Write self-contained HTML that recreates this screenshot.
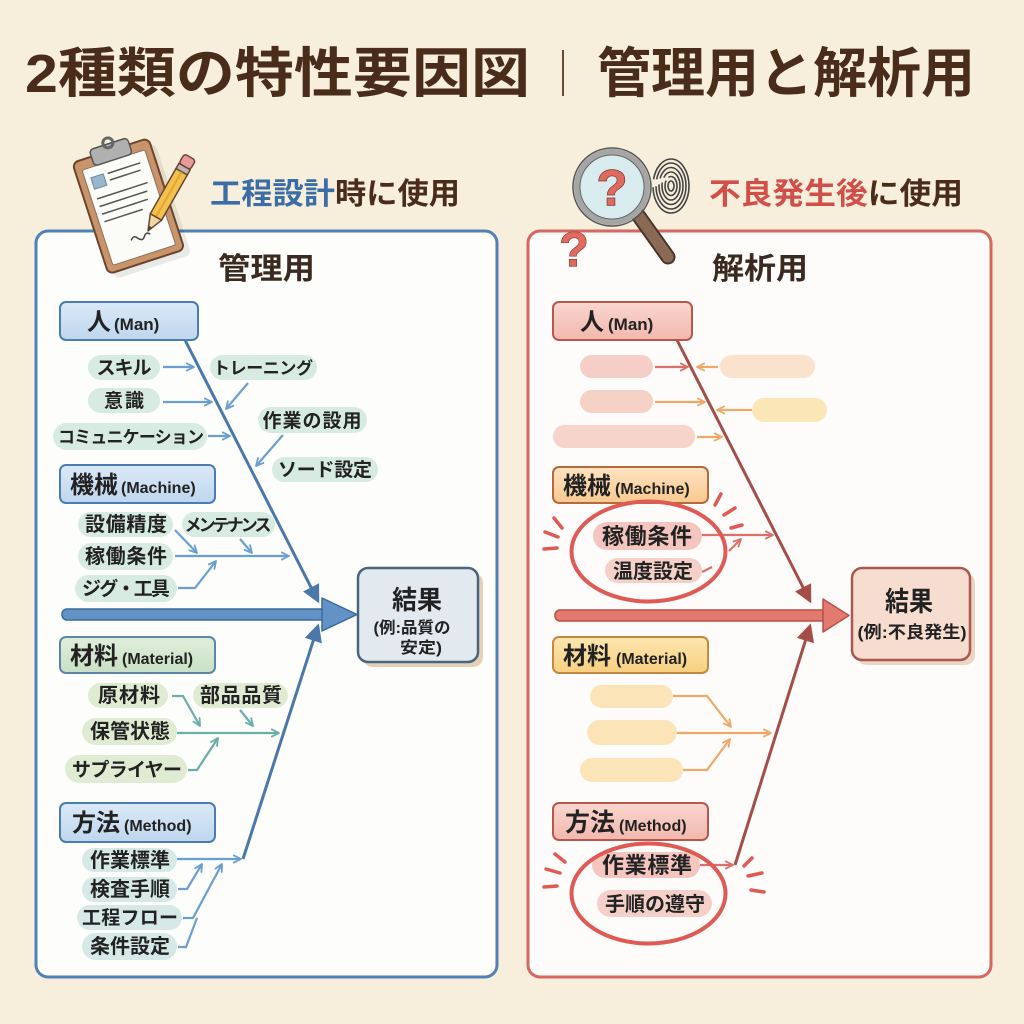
<!DOCTYPE html>
<html><head><meta charset="utf-8"><style>
html,body{margin:0;padding:0;background:#f7efdc;}
svg{display:block;}
</style></head><body>
<svg width="1024" height="1024" viewBox="0 0 1024 1024" xmlns="http://www.w3.org/2000/svg" font-family="'Liberation Sans','Noto Sans CJK JP',sans-serif">
<defs>
<marker id="mb" viewBox="0 0 10 10" refX="9" refY="5" markerWidth="9" markerHeight="9" markerUnits="userSpaceOnUse" orient="auto"><path d="M1,1 L9,5 L1,9" fill="none" stroke="#6a9fd0" stroke-width="2" stroke-linejoin="round" stroke-linecap="round"/></marker>
<marker id="mt" viewBox="0 0 10 10" refX="9" refY="5" markerWidth="9" markerHeight="9" markerUnits="userSpaceOnUse" orient="auto"><path d="M1,1 L9,5 L1,9" fill="none" stroke="#6aaea8" stroke-width="2" stroke-linejoin="round" stroke-linecap="round"/></marker>
<marker id="mr" viewBox="0 0 10 10" refX="9" refY="5" markerWidth="9" markerHeight="9" markerUnits="userSpaceOnUse" orient="auto"><path d="M1,1 L9,5 L1,9" fill="none" stroke="#d9706a" stroke-width="2" stroke-linejoin="round" stroke-linecap="round"/></marker>
<marker id="mo" viewBox="0 0 10 10" refX="9" refY="5" markerWidth="9" markerHeight="9" markerUnits="userSpaceOnUse" orient="auto"><path d="M1,1 L9,5 L1,9" fill="none" stroke="#f0a868" stroke-width="2" stroke-linejoin="round" stroke-linecap="round"/></marker>
<marker id="MB" viewBox="0 0 20 20" refX="17" refY="10" markerWidth="20" markerHeight="18" markerUnits="userSpaceOnUse" orient="auto"><path d="M0,0 L20,10 L0,20 Z" fill="#4a78aa"/></marker>
<marker id="MR" viewBox="0 0 20 20" refX="17" refY="10" markerWidth="20" markerHeight="18" markerUnits="userSpaceOnUse" orient="auto"><path d="M0,0 L20,10 L0,20 Z" fill="#a54e48"/></marker>
<linearGradient id="gb" x1="0" y1="0" x2="0" y2="1"><stop offset="0" stop-color="#dbe9f7"/><stop offset="1" stop-color="#bfd6ee"/></linearGradient>
<linearGradient id="gg" x1="0" y1="0" x2="0" y2="1"><stop offset="0" stop-color="#e0eedb"/><stop offset="1" stop-color="#c9e0c6"/></linearGradient>
<linearGradient id="gp" x1="0" y1="0" x2="0" y2="1"><stop offset="0" stop-color="#f9d6cf"/><stop offset="1" stop-color="#f2b8ae"/></linearGradient>
<linearGradient id="go" x1="0" y1="0" x2="0" y2="1"><stop offset="0" stop-color="#fde3c2"/><stop offset="1" stop-color="#f8c98f"/></linearGradient>
<linearGradient id="gy" x1="0" y1="0" x2="0" y2="1"><stop offset="0" stop-color="#fde6b0"/><stop offset="1" stop-color="#f7cf80"/></linearGradient>
</defs>

<!-- Title -->
<text x="25" y="92" font-size="54" font-weight="700" fill="#4a2c1a" textLength="505" lengthAdjust="spacingAndGlyphs">2種類の特性要因図</text>
<line x1="563" y1="50" x2="563" y2="96" stroke="#6b4a35" stroke-width="2"/>
<text x="597" y="92" font-size="54" font-weight="700" fill="#4a2c1a" textLength="378" lengthAdjust="spacingAndGlyphs">管理用と解析用</text>

<!-- Subheaders -->
<text x="210" y="204" font-size="30" font-weight="700" textLength="250" lengthAdjust="spacingAndGlyphs"><tspan fill="#3b6ea6">工程設計</tspan><tspan fill="#4a2c1a">時に使用</tspan></text>
<text x="709" y="204" font-size="30" font-weight="700" textLength="254" lengthAdjust="spacingAndGlyphs"><tspan fill="#d14f48">不良発生後</tspan><tspan fill="#4a2c1a">に使用</tspan></text>

<!-- Panels -->
<rect x="36" y="231" width="461" height="746" rx="12" fill="#fdfdfb" stroke="#4f80b8" stroke-width="3"/>
<rect x="528" y="231" width="463" height="746" rx="12" fill="#fefcfa" stroke="#d4675f" stroke-width="3"/>

<text x="218" y="279" font-size="30" font-weight="700" fill="#3a2a20" textLength="97" lengthAdjust="spacingAndGlyphs">管理用</text>
<text x="712" y="279" font-size="30" font-weight="700" fill="#3a2a20" textLength="96" lengthAdjust="spacingAndGlyphs">解析用</text>

<!-- ============ LEFT DIAGRAM ============ -->
<g font-weight="700" fill="#222">
<!-- main bones -->
<line x1="185" y1="340" x2="318" y2="601" stroke="#4a78aa" stroke-width="3" marker-end="url(#MB)"/>
<line x1="243" y1="859" x2="318" y2="626" stroke="#4a78aa" stroke-width="3" marker-end="url(#MB)"/>
<!-- horizontal spine -->
<rect x="62" y="609" width="265" height="11" rx="5" fill="#6393c6" stroke="#3d6a9a" stroke-width="1.5"/>
<path d="M322,598 L357,614.5 L322,631 Z" fill="#6393c6" stroke="#3d6a9a" stroke-width="1.5" stroke-linejoin="round"/>

<!-- category boxes -->
<rect x="60" y="302" width="138" height="38" rx="6" fill="url(#gb)" stroke="#4b7db3" stroke-width="2"/>
<text x="87" y="330"><tspan font-size="24">人</tspan><tspan font-size="17" dx="3">(Man)</tspan></text>
<rect x="60" y="465" width="155" height="38" rx="6" fill="url(#gb)" stroke="#4b7db3" stroke-width="2"/>
<text x="70" y="493"><tspan font-size="24">機械</tspan><tspan font-size="16" dx="3">(Machine)</tspan></text>
<rect x="60" y="637" width="155" height="36" rx="6" fill="url(#gg)" stroke="#5b86a8" stroke-width="2"/>
<text x="70" y="664"><tspan font-size="24">材料</tspan><tspan font-size="16" dx="4">(Material)</tspan></text>
<rect x="60" y="803" width="155" height="39" rx="6" fill="url(#gb)" stroke="#4b7db3" stroke-width="2"/>
<text x="72" y="831"><tspan font-size="24">方法</tspan><tspan font-size="16" dx="4">(Method)</tspan></text>

<!-- Man sub arrows -->
<g stroke="#6a9fd0" stroke-width="2.2" fill="none">
<line x1="163" y1="367" x2="194" y2="367" marker-end="url(#mb)"/>
<line x1="248" y1="383" x2="226" y2="409" marker-end="url(#mb)"/>
<line x1="163" y1="402" x2="212" y2="402" marker-end="url(#mb)"/>
<line x1="208" y1="436" x2="230" y2="436" marker-end="url(#mb)"/>
<line x1="283" y1="435" x2="256" y2="466" marker-end="url(#mb)"/>
<!-- Machine -->
<line x1="175" y1="530" x2="197" y2="553" marker-end="url(#mb)"/>
<line x1="240" y1="539" x2="252" y2="553" marker-end="url(#mb)"/>
<line x1="175" y1="556" x2="289" y2="556" marker-end="url(#mb)"/>
<polyline points="178,588 195,588 216,561" marker-end="url(#mb)"/>
<!-- Method -->
<line x1="177" y1="859" x2="241" y2="859" marker-end="url(#mb)"/>
<polyline points="178,889 187,889 202,864" marker-end="url(#mb)"/>
<polyline points="183,918 193,918 222,864" marker-end="url(#mb)"/>
<polyline points="178,947 186,947 197,918"/>
</g>
<!-- Material sub arrows -->
<g stroke="#6aaea8" stroke-width="2.2" fill="none">
<polyline points="172,696 183,696 200,726" marker-end="url(#mt)"/>
<line x1="240" y1="710" x2="253" y2="726" marker-end="url(#mt)"/>
<line x1="177" y1="733" x2="279" y2="733" marker-end="url(#mt)"/>
<polyline points="188,770 197,770 218,738" marker-end="url(#mt)"/>
</g>

<!-- pills -->
<g fill="#d8ebe3">
<rect x="88" y="355" width="72" height="25" rx="12.5"/>
<rect x="210" y="355" width="107" height="25" rx="12.5"/>
<rect x="88" y="388" width="72" height="25" rx="12.5"/>
<rect x="53" y="423" width="154" height="27" rx="13.5"/>
<rect x="258" y="407" width="109" height="26" rx="13"/>
<rect x="272" y="457" width="106" height="25" rx="12.5"/>
<rect x="78" y="512" width="95" height="25" rx="12.5"/>
<rect x="182" y="512" width="93" height="25" rx="12.5"/>
<rect x="78" y="543" width="95" height="27" rx="13.5"/>
<rect x="75" y="575" width="102" height="27" rx="13.5"/>
</g>
<g fill="#dfebd2">
<rect x="88" y="683" width="80" height="25" rx="12.5"/>
<rect x="193" y="683" width="95" height="25" rx="12.5"/>
<rect x="82" y="718" width="95" height="27" rx="13.5"/>
<rect x="65" y="755" width="122" height="28" rx="14"/>
</g>
<g fill="#d6e9e6">
<rect x="82" y="848" width="95" height="24" rx="12"/>
<rect x="82" y="877" width="95" height="25" rx="12.5"/>
<rect x="77" y="905" width="105" height="25" rx="12.5"/>
<rect x="82" y="933" width="95" height="27" rx="13.5"/>
</g>
<g font-size="19" text-anchor="middle" lengthAdjust="spacingAndGlyphs">
<text x="124" y="374" textLength="55">スキル</text>
<text x="263" y="374" textLength="100" font-size="17">トレーニング</text>
<text x="124" y="407" textLength="40">意識</text>
<text x="131" y="443" textLength="146" font-size="17">コミュニケーション</text>
<text x="312" y="427" textLength="99">作業の設用</text>
<text x="325" y="476" textLength="94">ソード設定</text>
<text x="126" y="531" textLength="82" font-size="20">設備精度</text>
<text x="228" y="531" textLength="87" font-size="17">メンテナンス</text>
<text x="126" y="563" textLength="82" font-size="20">稼働条件</text>
<text x="126" y="595" textLength="88" font-size="19">ジグ・工具</text>
<text x="129" y="702" textLength="62" font-size="20">原材料</text>
<text x="241" y="702" textLength="82" font-size="20">部品品質</text>
<text x="130" y="738" textLength="80" font-size="20">保管状態</text>
<text x="127" y="776" textLength="110" font-size="19">サプライヤー</text>
<text x="130" y="867" textLength="80" font-size="20">作業標準</text>
<text x="130" y="896" textLength="80" font-size="20">検査手順</text>
<text x="130" y="924" textLength="96" font-size="19">工程フロー</text>
<text x="130" y="953" textLength="80" font-size="20">条件設定</text>
</g>

<!-- result box left -->
<rect x="363" y="573" width="120" height="94" rx="10" fill="#e6d0b4"/>
<rect x="358" y="568" width="120" height="94" rx="10" fill="#e3eaef" stroke="#4a6580" stroke-width="2.5"/>
<text x="417" y="609" font-size="26" text-anchor="middle" textLength="50" lengthAdjust="spacingAndGlyphs">結果</text>
<text x="412" y="633" font-size="16" text-anchor="middle" textLength="77" lengthAdjust="spacingAndGlyphs">(例:品質の</text>
<text x="421" y="653" font-size="16" text-anchor="middle" textLength="42" lengthAdjust="spacingAndGlyphs">安定)</text>
</g>

<!-- ============ RIGHT DIAGRAM ============ -->
<g font-weight="700" fill="#222">
<line x1="677" y1="340" x2="810" y2="601" stroke="#a54e48" stroke-width="3" marker-end="url(#MR)"/>
<line x1="735" y1="865" x2="810" y2="626" stroke="#a54e48" stroke-width="3" marker-end="url(#MR)"/>
<rect x="555" y="610" width="274" height="11" rx="5" fill="#e27a70" stroke="#b85048" stroke-width="1.5"/>
<path d="M823,599 L849,615.5 L823,632 Z" fill="#e27a70" stroke="#b85048" stroke-width="1.5" stroke-linejoin="round"/>

<rect x="553" y="302" width="139" height="38" rx="6" fill="url(#gp)" stroke="#b8564e" stroke-width="2"/>
<text x="580" y="330"><tspan font-size="24">人</tspan><tspan font-size="17" dx="4">(Man)</tspan></text>
<rect x="553" y="467" width="155" height="36" rx="6" fill="url(#go)" stroke="#b36a3e" stroke-width="2"/>
<text x="563" y="494"><tspan font-size="24">機械</tspan><tspan font-size="16" dx="4">(Machine)</tspan></text>
<rect x="553" y="637" width="155" height="36" rx="6" fill="url(#gy)" stroke="#c08a45" stroke-width="2"/>
<text x="563" y="664"><tspan font-size="24">材料</tspan><tspan font-size="16" dx="5">(Material)</tspan></text>
<rect x="553" y="803" width="155" height="37" rx="6" fill="url(#gp)" stroke="#b8564e" stroke-width="2"/>
<text x="565" y="831"><tspan font-size="25">方法</tspan><tspan font-size="16" dx="4">(Method)</tspan></text>

<!-- blank pills -->
<rect x="580" y="355" width="73" height="23" rx="11.5" fill="#f5cfc7"/>
<rect x="720" y="355" width="95" height="23" rx="11.5" fill="#fbe2cd"/>
<rect x="580" y="390" width="73" height="23" rx="11.5" fill="#f6d2c6"/>
<rect x="752" y="398" width="75" height="24" rx="12" fill="#fbe6b8"/>
<rect x="553" y="425" width="142" height="23" rx="11.5" fill="#f6d3cb"/>
<rect x="590" y="685" width="83" height="23" rx="11.5" fill="#fbe5b8"/>
<rect x="587" y="720" width="90" height="25" rx="12.5" fill="#fbe5b8"/>
<rect x="580" y="758" width="103" height="24" rx="12" fill="#fbe5b8"/>

<g fill="none" stroke-width="2.2">
<line x1="655" y1="367" x2="688" y2="367" stroke="#d9706a" marker-end="url(#mr)"/>
<line x1="718" y1="367" x2="697" y2="367" stroke="#f0a868" marker-end="url(#mo)"/>
<line x1="655" y1="402" x2="705" y2="402" stroke="#f0a868" marker-end="url(#mo)"/>
<line x1="752" y1="410" x2="717" y2="410" stroke="#f0a868" marker-end="url(#mo)"/>
<line x1="697" y1="437" x2="722" y2="437" stroke="#f0a868" marker-end="url(#mo)"/>
<line x1="702" y1="535" x2="773" y2="535" stroke="#d9706a" marker-end="url(#mr)"/>
<line x1="729" y1="551" x2="741" y2="539" stroke="#d9706a" marker-end="url(#mr)"/>
<line x1="702" y1="572" x2="712" y2="567" stroke="#d9706a"/>
<polyline points="673,696 707,696 731,727" stroke="#f0a868" marker-end="url(#mo)"/>
<line x1="677" y1="733" x2="771" y2="733" stroke="#f0a868" marker-end="url(#mo)"/>
<polyline points="683,770 707,770 730,739" stroke="#f0a868" marker-end="url(#mo)"/>
<line x1="700" y1="865" x2="733" y2="865" stroke="#d9706a" marker-end="url(#mr)"/>
</g>

<!-- highlighted pills -->
<rect x="593" y="522" width="109" height="28" rx="14" fill="#f4c6bf"/>
<rect x="605" y="558" width="97" height="25" rx="12.5" fill="#f5d0c9"/>
<rect x="592" y="852" width="108" height="26" rx="13" fill="#f4c6bf"/>
<rect x="597" y="890" width="115" height="27" rx="13.5" fill="#f5d0c9"/>
<g text-anchor="middle" lengthAdjust="spacingAndGlyphs">
<text x="647" y="544" font-size="22" textLength="90">稼働条件</text>
<text x="653" y="578" font-size="20" textLength="80">温度設定</text>
<text x="647" y="873" font-size="22" textLength="90">作業標準</text>
<text x="655" y="911" font-size="20" textLength="100">手順の遵守</text>
</g>

<!-- ellipses -->
<ellipse cx="648.5" cy="551.5" rx="77" ry="50" fill="none" stroke="#e05a55" stroke-width="4"/>
<ellipse cx="648.5" cy="893.5" rx="77" ry="50" fill="none" stroke="#e05a55" stroke-width="4"/>
<g stroke="#e05a55" stroke-width="3.5" stroke-linecap="round">
<line x1="554" y1="518" x2="562" y2="528"/>
<line x1="545" y1="532" x2="558" y2="537"/>
<line x1="544" y1="549" x2="557" y2="548"/>
<line x1="721" y1="494" x2="715" y2="505"/>
<line x1="735" y1="508" x2="724" y2="515"/>
<line x1="742" y1="525" x2="731" y2="528"/>
<line x1="555" y1="854" x2="565" y2="862"/>
<line x1="546" y1="869" x2="560" y2="873"/>
<line x1="544" y1="887" x2="557" y2="886"/>
<line x1="752" y1="858" x2="744" y2="866"/>
<line x1="762" y1="873" x2="748" y2="876"/>
<line x1="764" y1="892" x2="751" y2="890"/>
</g>

<!-- result box right -->
<rect x="857" y="573" width="118" height="92" rx="10" fill="#ead5c2"/>
<rect x="852" y="568" width="118" height="92" rx="10" fill="#f6ddcf" stroke="#a85a50" stroke-width="2.5"/>
<text x="909" y="611" font-size="27" text-anchor="middle" textLength="48" lengthAdjust="spacingAndGlyphs">結果</text>
<text x="912" y="638" font-size="17" text-anchor="middle" textLength="109" lengthAdjust="spacingAndGlyphs">(例:不良発生)</text>
</g>

<!-- ============ ICONS ============ -->
<!-- Clipboard -->
<g transform="rotate(-18 127 205)">
<rect x="90" y="151" width="80" height="117" rx="6" fill="#000" opacity="0.08" transform="translate(3,4)"/>
<rect x="88" y="148" width="80" height="117" rx="6" fill="#c99469" stroke="#6b4530" stroke-width="2"/>
<rect x="95" y="158" width="66" height="100" rx="2" fill="#fbfbf8" stroke="#8a7060" stroke-width="1"/>
<rect x="108" y="141" width="40" height="17" rx="4" fill="#b0b0b0" stroke="#555" stroke-width="1.5"/>
<circle cx="128" cy="140" r="5" fill="none" stroke="#666" stroke-width="3"/>
<rect x="101" y="168" width="13" height="12" fill="#9bb5cc" stroke="#6f8aa3" stroke-width="1"/>
<g stroke="#555" stroke-width="1.5" stroke-linecap="round">
<line x1="119" y1="169" x2="152" y2="169"/>
<line x1="119" y1="176" x2="150" y2="176"/>
<line x1="101" y1="190" x2="153" y2="190"/>
<line x1="101" y1="198" x2="150" y2="198"/>
<line x1="101" y1="206" x2="148" y2="206"/>
<line x1="101" y1="214" x2="140" y2="214"/>
</g>
<path d="M120,240 q4,-5 7,0 q4,5 7,0 q3,-4 6,0" fill="none" stroke="#444" stroke-width="1.5"/>
</g>
<!-- Pencil -->
<g transform="translate(190,157) rotate(119.6)">
<rect x="0" y="-6.5" width="11" height="13" rx="3" fill="#e89a9a" stroke="#6b4530" stroke-width="1.5"/>
<rect x="11" y="-6.5" width="6" height="13" fill="#b8b8b8" stroke="#6b4530" stroke-width="1.5"/>
<rect x="17" y="-6.5" width="52" height="13" fill="#f3c24e" stroke="#6b4530" stroke-width="1.5"/>
<line x1="17" y1="0" x2="69" y2="0" stroke="#e2a530" stroke-width="2"/>
<path d="M69,-6.5 L85,0 L69,6.5 Z" fill="#f0d5a5" stroke="#6b4530" stroke-width="1.5" stroke-linejoin="round"/>
<path d="M80,-2 L85,0 L80,2 Z" fill="#444"/>
</g>

<!-- Magnifier -->
<line x1="638" y1="215" x2="668" y2="257" stroke="#4a3528" stroke-width="15" stroke-linecap="round"/>
<line x1="638" y1="215" x2="668" y2="257" stroke="#8a6a55" stroke-width="11" stroke-linecap="round"/>
<circle cx="612" cy="187" r="39" fill="none" stroke="#555" stroke-width="1.5"/>
<circle cx="612" cy="187" r="35" fill="#d8ecf0" stroke="#a5a5a5" stroke-width="6"/>
<circle cx="612" cy="187" r="32" fill="none" stroke="#666" stroke-width="1"/>
<text x="612" y="205" font-size="50" font-weight="700" fill="#e06a60" stroke="#7a3a30" stroke-width="1.5" paint-order="stroke" text-anchor="middle" font-family="'Liberation Sans',sans-serif">?</text>
<!-- fingerprint -->
<g fill="none" stroke="#444" stroke-width="1.6">
<ellipse cx="671" cy="186" rx="3" ry="5"/>
<ellipse cx="671" cy="186" rx="6" ry="9.5" stroke-dasharray="30 4"/>
<ellipse cx="671" cy="186" rx="9" ry="14" stroke-dasharray="40 5"/>
<ellipse cx="671" cy="186" rx="12" ry="18.5" stroke-dasharray="50 6"/>
<ellipse cx="671" cy="186" rx="15" ry="23" stroke-dasharray="60 7"/>
<ellipse cx="671" cy="186" rx="18" ry="27" stroke-dasharray="70 8"/>
</g>
<!-- small question mark -->
<text x="574" y="266" font-size="48" font-weight="700" fill="#e06a60" stroke="#7a3a30" stroke-width="1.2" paint-order="stroke" text-anchor="middle" font-family="'Liberation Sans',sans-serif">?</text>
</svg>
</body></html>
